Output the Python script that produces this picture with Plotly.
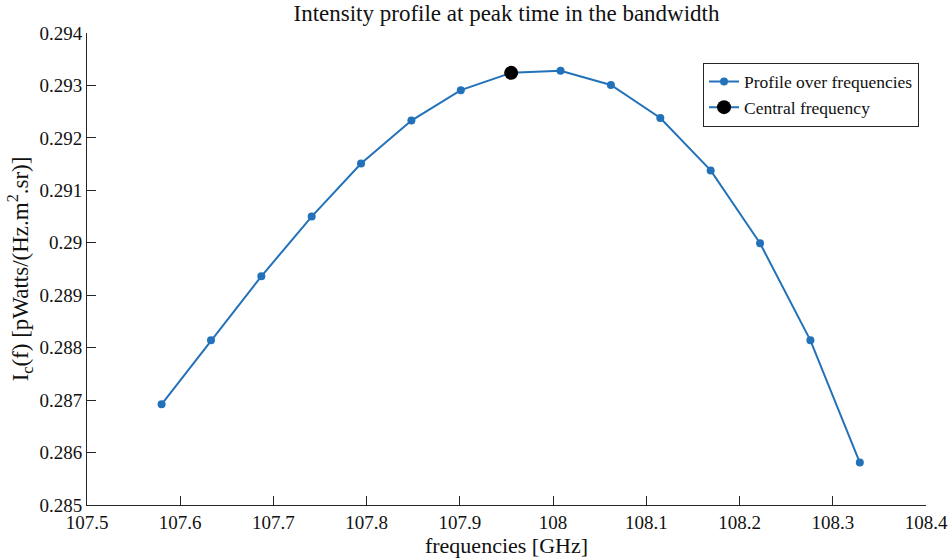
import plotly.graph_objects as go

freqs = [107.580, 107.633, 107.687, 107.741, 107.794, 107.848, 107.901, 107.955,
         108.008, 108.062, 108.115, 108.169, 108.222, 108.276, 108.329]
intensity = [0.28692, 0.28814, 0.28936, 0.29050, 0.29151, 0.29233, 0.29291, 0.29324,
             0.29328, 0.29301, 0.29238, 0.29138, 0.28999, 0.28814, 0.28581]
central_freq = [107.955]
central_int = [0.29324]

xticks = [107.5, 107.6, 107.7, 107.8, 107.9, 108.0, 108.1, 108.2, 108.3, 108.4]
xticklabels = ["107.5", "107.6", "107.7", "107.8", "107.9", "108", "108.1", "108.2", "108.3", "108.4"]
yticks = [0.285, 0.286, 0.287, 0.288, 0.289, 0.290, 0.291, 0.292, 0.293, 0.294]
yticklabels = ["0.285", "0.286", "0.287", "0.288", "0.289", "0.29", "0.291", "0.292", "0.293", "0.294"]

BLUE = "#2372b9"
AX = "#262626"
FONT = "Liberation Serif"

fig = go.Figure()
fig.add_trace(go.Scatter(x=freqs, y=intensity, mode="lines+markers",
                         name="Profile over frequencies",
                         line=dict(color=BLUE, width=2),
                         marker=dict(color=BLUE, size=8)))
fig.add_trace(go.Scatter(x=central_freq, y=central_int, mode="lines+markers",
                         name="Central frequency",
                         line=dict(color=BLUE, width=2),
                         marker=dict(color="black", size=14)))

fig.update_layout(
    width=952, height=560,
    margin=dict(l=87, r=26, t=33, b=55),
    paper_bgcolor="white", plot_bgcolor="white",
    font=dict(family=FONT, size=19, color="#111111"),
    title=dict(text="Intensity profile at peak time in the bandwidth",
               x=506.5/952, xanchor="center", xref="container",
               y=1-13/560, yanchor="middle", font=dict(size=23, family=FONT, color="#111111")),
    showlegend=True,
    legend=dict(x=0.9917, y=0.9375, xanchor="right", yanchor="top",
                bgcolor="white", bordercolor=AX, borderwidth=1,
                font=dict(size=17.5, family=FONT, color="#111111"),
                tracegroupgap=0, itemwidth=30),
)
fig.update_xaxes(range=[107.5, 108.4], tickvals=xticks, ticktext=xticklabels, automargin=False,
                 showgrid=False, zeroline=False, showline=True, linecolor=AX, linewidth=1,
                 ticks="inside", ticklen=9, tickcolor=AX, tickwidth=1,
                 title=dict(text="frequencies [GHz]", standoff=2, font=dict(size=22)))
fig.update_yaxes(range=[0.285, 0.294], tickvals=yticks, ticktext=yticklabels, automargin=False,
                 showgrid=False, zeroline=False, showline=True, linecolor=AX, linewidth=1,
                 ticks="inside", ticklen=9, tickcolor=AX, tickwidth=1,
                 title=dict(text="I<sub>c</sub>(f) [pWatts/(Hz.m<sup>2</sup>.sr)]", standoff=4,
                            font=dict(size=23)))

fig.write_html("out.html")
